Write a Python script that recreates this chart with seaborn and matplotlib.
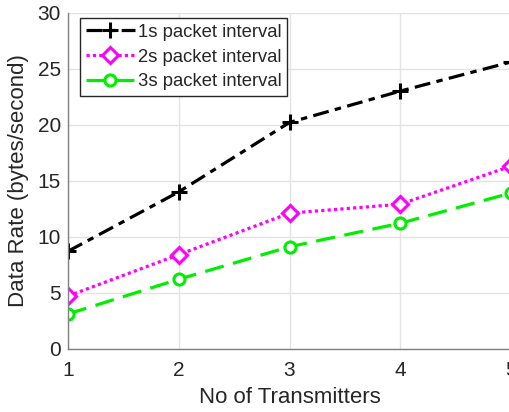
import matplotlib
matplotlib.use("Agg")
import matplotlib.pyplot as plt
import seaborn as sns
import pandas as pd

transmitters = [1, 2, 3, 4, 5]
rate_1s = [8.7, 14.0, 20.2, 23.0, 25.6]
rate_2s = [4.7, 8.4, 12.1, 12.9, 16.3]
rate_3s = [3.1, 6.2, 9.1, 11.2, 13.9]
labels = ["1s packet interval", "2s packet interval", "3s packet interval"]

df = pd.DataFrame({
    "tx": transmitters * 3,
    "rate": rate_1s + rate_2s + rate_3s,
    "series": [labels[0]] * 5 + [labels[1]] * 5 + [labels[2]] * 5,
})

sns.set_style("whitegrid")
plt.rcParams["font.family"] = ["Liberation Sans", "DejaVu Sans"]

fig = plt.figure(figsize=(5.09, 4.12), dpi=100)
ax = fig.add_axes([68 / 509, 1 - 348.7 / 412, 443 / 509, (348.7 - 12.7) / 412])

styles = {
    labels[0]: dict(color="black", ls=(0, (5, 2, 2, 2)), marker="+", ms=11, mew=2.2),
    labels[1]: dict(color="#ff00ff", ls=(0, (1, 1)), marker="D", ms=8, mew=2.2, mfc="white"),
    labels[2]: dict(color="#00ee00", ls=(0, (6, 3)), marker="o", ms=8, mew=2.2, mfc="white"),
}
for name in labels:
    st = styles[name]
    sns.lineplot(data=df[df["series"] == name], x="tx", y="rate", ax=ax,
                 color=st["color"], linestyle=st["ls"], marker=st["marker"],
                 markersize=st["ms"], markeredgewidth=st["mew"],
                 markerfacecolor=st.get("mfc", st["color"]),
                 markeredgecolor=st["color"], linewidth=2.3, label=name)

ax.set_xlim(1, 5)
ax.set_ylim(0, 30)
ax.set_xticks([1, 2, 3, 4, 5])
ax.set_yticks([0, 5, 10, 15, 20, 25, 30])
ax.grid(True, color="#e3e3e3", linewidth=1)
ax.tick_params(direction="in", length=4, colors="#262626", labelsize=15)
ax.tick_params(axis="y", pad=5)
ax.tick_params(axis="x", pad=9)
for s in ["top", "right"]:
    ax.spines[s].set_visible(False)
for s in ["left", "bottom"]:
    ax.spines[s].set_color("#808080")
    ax.spines[s].set_linewidth(1)
ax.set_xlabel("No of Transmitters", fontsize=16, color="#262626", labelpad=5)
ax.set_ylabel("Data Rate (bytes/second)", fontsize=16, color="#262626", labelpad=6)

leg = ax.legend(loc="upper left", bbox_to_anchor=(0.027, 0.983), fontsize=13.3,
                frameon=True, fancybox=False, handlelength=2.7, handletextpad=0.15,
                borderpad=0.3, labelspacing=0.42, borderaxespad=0)
leg.get_frame().set_edgecolor("#262626")
leg.get_frame().set_linewidth(1)
leg.get_frame().set_alpha(1)

fig.savefig("out.png", dpi=100)
